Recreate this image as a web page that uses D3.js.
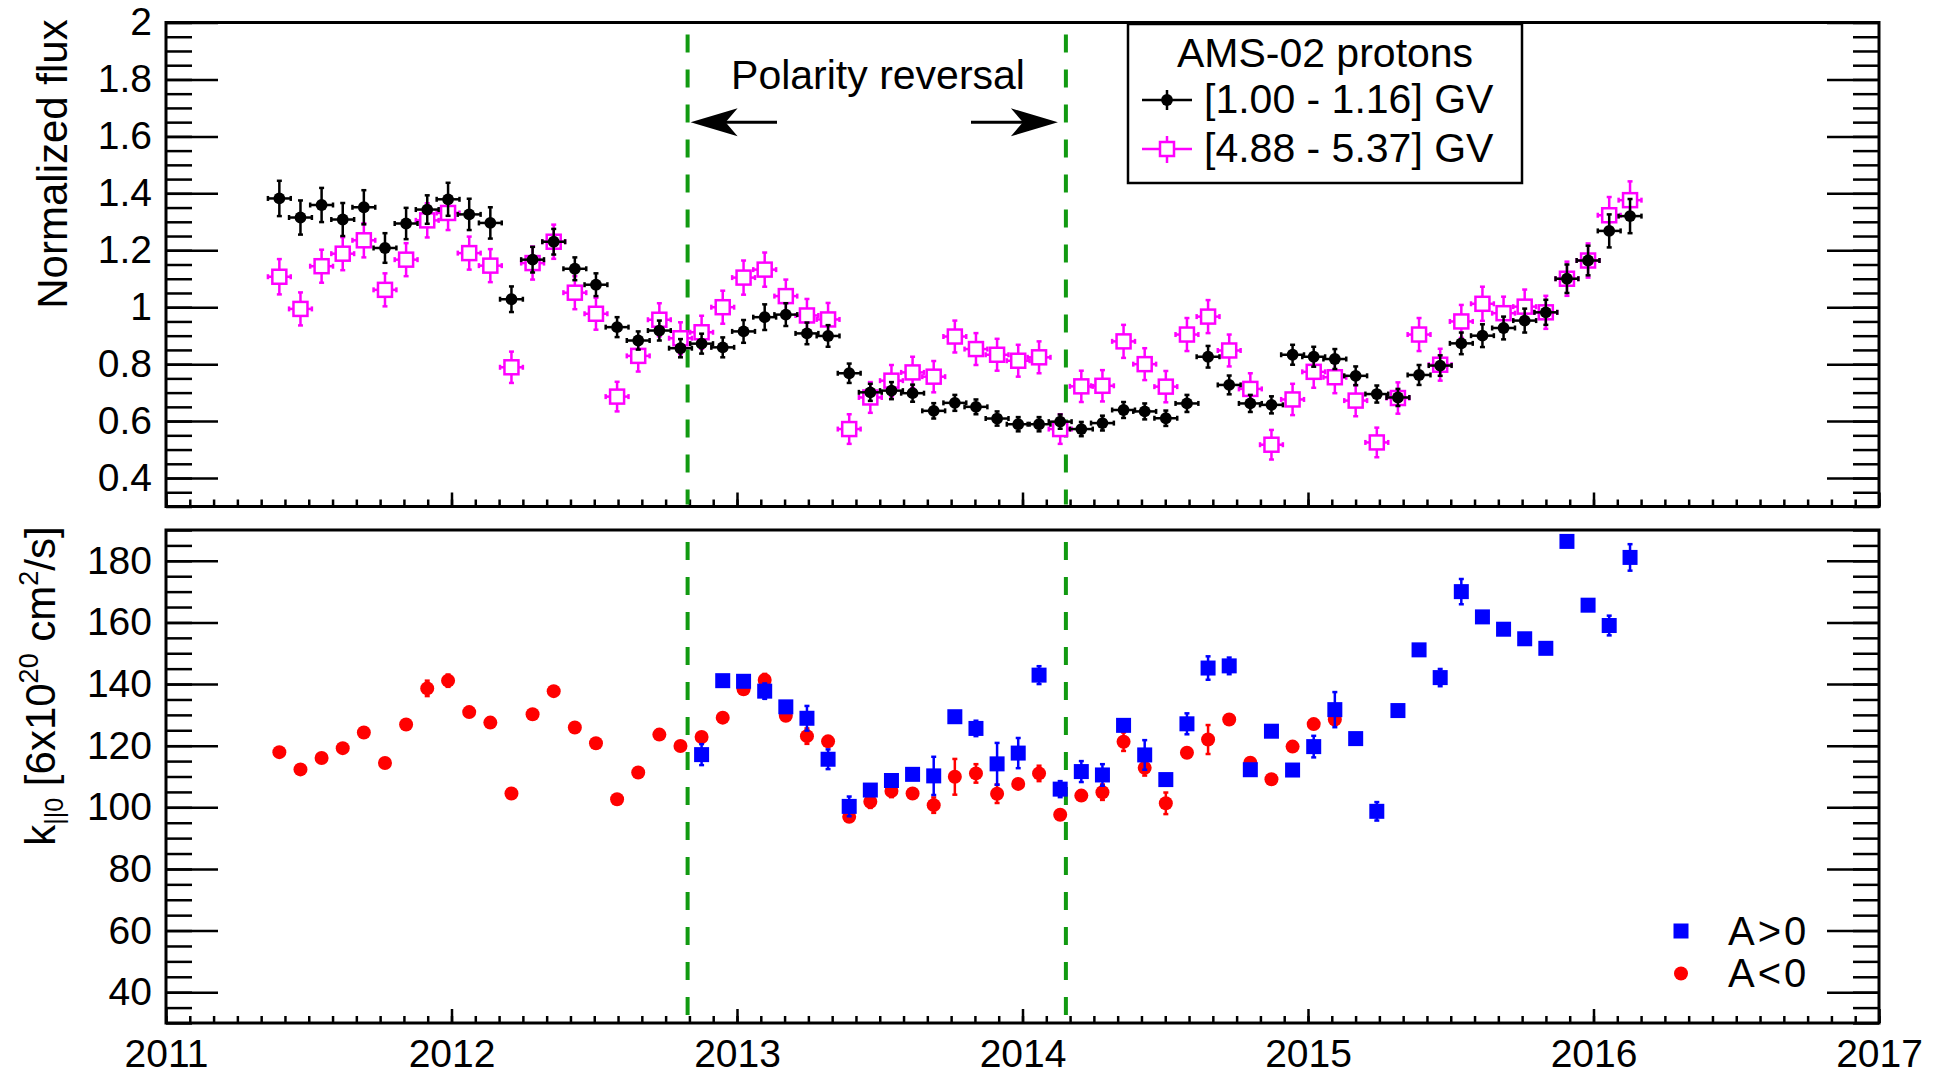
<!DOCTYPE html>
<html>
<head>
<meta charset="utf-8">
<script src="https://cdn.jsdelivr.net/npm/d3@7"></script>
<style>
body { margin: 0; background: #fff; }
svg text { font-family: "Liberation Sans", Arial, Helvetica, sans-serif; fill: #000; }
</style>
</head>
<body>
<div id="chart"></div>
<script>
// Bartels rotation centres (decimal year)
var times = [2011.397, 2011.471, 2011.545, 2011.619, 2011.693, 2011.767, 2011.841, 2011.915, 2011.988, 2012.062,
    2012.136, 2012.210, 2012.284, 2012.358, 2012.432, 2012.506, 2012.580, 2012.654, 2012.728, 2012.802,
    2012.876, 2012.950, 2013.023, 2013.097, 2013.171, 2013.245, 2013.319, 2013.393, 2013.467, 2013.541,
    2013.615, 2013.689, 2013.763, 2013.837, 2013.911, 2013.985, 2014.058, 2014.132, 2014.206, 2014.280,
    2014.354, 2014.428, 2014.502, 2014.576, 2014.650, 2014.724, 2014.798, 2014.872, 2014.946, 2015.020,
    2015.094, 2015.167, 2015.241, 2015.315, 2015.389, 2015.463, 2015.537, 2015.611, 2015.685, 2015.759,
    2015.833, 2015.907, 2015.981, 2016.055, 2016.128];
var halfBin = 0.04;

// [1.00 - 1.16] GV
var fluxLow = [1.382, 1.315, 1.359, 1.308, 1.351, 1.208, 1.294, 1.343, 1.379, 1.326,
    1.296, 1.028, 1.167, 1.230, 1.135, 1.079, 0.930, 0.883, 0.918, 0.856,
    0.872, 0.859, 0.915, 0.965, 0.974, 0.908, 0.899, 0.768, 0.701, 0.707,
    0.698, 0.636, 0.664, 0.650, 0.609, 0.589, 0.589, 0.598, 0.572, 0.593,
    0.639, 0.634, 0.610, 0.662, 0.826, 0.727, 0.662, 0.657, 0.833, 0.826,
    0.818, 0.759, 0.695, 0.683, 0.762, 0.795, 0.873, 0.900, 0.927, 0.953,
    0.982, 1.100, 1.164, 1.268, 1.320];
var fluxLowErr = [0.062, 0.060, 0.060, 0.058, 0.060, 0.052, 0.055, 0.050, 0.058, 0.055,
    0.055, 0.045, 0.045, 0.045, 0.040, 0.040, 0.035, 0.032, 0.035, 0.032,
    0.035, 0.035, 0.040, 0.045, 0.040, 0.038, 0.038, 0.034, 0.030, 0.030,
    0.030, 0.027, 0.028, 0.026, 0.025, 0.025, 0.025, 0.025, 0.025, 0.026,
    0.028, 0.028, 0.027, 0.030, 0.038, 0.033, 0.030, 0.030, 0.035, 0.035,
    0.035, 0.033, 0.030, 0.030, 0.035, 0.036, 0.038, 0.040, 0.040, 0.042,
    0.044, 0.050, 0.052, 0.058, 0.060];

// [4.88 - 5.37] GV
var fluxHigh = [1.107, 0.994, 1.144, 1.188, 1.235, 1.061, 1.167, 1.305, 1.331, 1.190,
    1.146, 0.789, 1.155, 1.230, 1.051, 0.977, 0.686, 0.829, 0.956, 0.891,
    0.912, 1.000, 1.104, 1.132, 1.039, 0.971, 0.957, 0.572, 0.683, 0.742,
    0.771, 0.756, 0.897, 0.853, 0.833, 0.812, 0.824, 0.572, 0.722, 0.724,
    0.880, 0.800, 0.721, 0.904, 0.967, 0.848, 0.713, 0.517, 0.676, 0.773,
    0.754, 0.672, 0.525, 0.681, 0.904, 0.798, 0.950, 1.012, 0.979, 1.002,
    0.982, 1.100, 1.164, 1.323, 1.376];
var fluxHighErr = [0.062, 0.058, 0.058, 0.058, 0.060, 0.058, 0.058, 0.060, 0.060, 0.058,
    0.058, 0.055, 0.058, 0.060, 0.058, 0.056, 0.052, 0.055, 0.058, 0.056,
    0.058, 0.058, 0.060, 0.060, 0.058, 0.058, 0.058, 0.052, 0.054, 0.055,
    0.055, 0.055, 0.056, 0.056, 0.056, 0.056, 0.056, 0.052, 0.055, 0.055,
    0.058, 0.056, 0.055, 0.058, 0.058, 0.056, 0.055, 0.052, 0.055, 0.056,
    0.056, 0.055, 0.052, 0.055, 0.058, 0.056, 0.058, 0.060, 0.058, 0.060,
    0.058, 0.060, 0.060, 0.064, 0.066];

// k_||0, A<0 fits (red)
var kNeg = [117.9, 112.3, 116.0, 119.2, 124.3, 114.4, 126.9, 138.6, 141.1, 130.9,
    127.5, 104.5, 130.2, 137.7, 125.9, 120.8, 102.6, 111.3, 123.6, 119.9,
    122.8, 129.1, 138.3, 141.3, 129.7, 123.1, 121.4, 96.9, 101.8, 105.3,
    104.5, 100.7, 109.9, 111.0, 104.4, 107.6, 111.0, 97.6, 103.8, 104.9,
    121.3, 112.8, 101.3, 117.7, 122.0, 128.5, 114.5, 109.1, 119.7, 127.0,
    128.5, null, null, null, null, null, null, null, null, null,
    null, null, null, null, null];
var kNegErr = [1, 1, 1, 1, 1, 1, 1, 2.5, 2, 1,
    1, 1, 1, 1.5, 1, 1.5, 1, 1, 1, 1,
    1, 1, 1, 2, 1, 2.5, 1, 1, 2, 2,
    1, 2.5, 5.8, 3, 3, 1, 2.5, 1, 1, 2.5,
    3, 2.5, 3.5, 1, 4.7, 1.5, 1, 1, 1, 1,
    1, null, null, null, null, null, null, null, null, null,
    null, null, null, null, null];

// k_||0, A>0 fits (blue)
var kPos = [null, null, null, null, null, null, null, null, null, null,
    null, null, null, null, null, null, null, null, null, null,
    117.1, 141.1, 140.9, 137.7, 132.6, 128.9, 115.6, 100.3, 105.6, 108.7,
    110.7, 110.2, 129.4, 125.6, 114.1, 117.6, 142.9, 105.9, 111.6, 110.5,
    126.6, 117.0, 109.0, 127.1, 145.2, 145.9, 112.2, 124.7, 112.1, 119.7,
    131.7, 122.3, 98.7, 131.4, 151.1, 142.1, 170.0, 161.8, 157.8, 154.7,
    151.6, 186.3, 165.6, 159.0, 181.1];
var kPosErr = [null, null, null, null, null, null, null, null, null, null,
    null, null, null, null, null, null, null, null, null, null,
    3.4, 1, 1, 2.5, 1, 4, 3.2, 3.2, 1, 1,
    1, 6.2, 1.2, 2.5, 6.8, 4.9, 2.9, 2.6, 3.4, 3.5,
    1, 4.8, 1, 3.4, 3.8, 2.7, 1, 1, 1, 3.5,
    5.7, 1, 3, 1, 1, 2.8, 4.1, 1, 1, 1,
    1, 1, 1, 3.2, 4.3];

var reversal = [2012.827, 2014.152];
var years = [2011, 2012, 2013, 2014, 2015, 2016, 2017];
var yearLabels = ["2011", "2012", "2013", "2014", "2015", "2016", "2017"];
var fluxTicks = [0.4, 0.6, 0.8, 1.0, 1.2, 1.4, 1.6, 1.8, 2.0];
var fluxLabels = ["0.4", "0.6", "0.8", "1", "1.2", "1.4", "1.6", "1.8", "2"];
var kTicks = [40, 60, 80, 100, 120, 140, 160, 180];
var kLabels = ["40", "60", "80", "100", "120", "140", "160", "180"];

var width = 1940, height = 1074;
var green = "#119a11", magenta = "#ff00ff", red = "#ff0000", blue = "#0000ff";

var x = d3.scaleLinear().domain([2011, 2017]).range([166, 1879]);
var yTop = d3.scaleLinear().domain([0.3, 2.0]).range([506.5, 22.5]);
var yBot = d3.scaleLinear().domain([30, 190]).range([1023, 530]);

var svg = d3.select("#chart")
    .append("svg")
    .attr("width", width)
    .attr("height", height);
svg.append("rect").attr("width", width).attr("height", height).attr("fill", "#fff");

// axes with inward ticks on left, right and bottom
function drawAxes(y, majors, labels, minorStep, xLabels) {
    var d0 = y.domain()[0], d1 = y.domain()[1];
    var minors = d3.range(d0, d1 + minorStep / 2, minorStep);
    var xMinors = d3.range(2011, 2017.001, 1 / 12);
    var left = x.range()[0], right = x.range()[1], bottom = y.range()[0];

    var g = svg.append("g");
    g.append("g").attr("transform", "translate(" + left + ",0)")
        .call(d3.axisLeft(y).tickValues(minors).tickSize(-26).tickFormat(""));
    g.append("g").attr("transform", "translate(" + left + ",0)")
        .call(d3.axisLeft(y).tickValues(majors).tickSize(-52).tickPadding(14)
            .tickFormat(function (d, i) { return labels[i]; }));
    g.append("g").attr("transform", "translate(" + right + ",0)")
        .call(d3.axisRight(y).tickValues(minors).tickSize(-26).tickFormat(""));
    g.append("g").attr("transform", "translate(" + right + ",0)")
        .call(d3.axisRight(y).tickValues(majors).tickSize(-52).tickFormat(""));
    g.append("g").attr("transform", "translate(0," + bottom + ")")
        .call(d3.axisBottom(x).tickValues(xMinors).tickSize(-7).tickFormat(""));
    g.append("g").attr("transform", "translate(0," + bottom + ")")
        .call(d3.axisBottom(x).tickValues(years).tickSize(-14).tickPadding(16)
            .tickFormat(function (d, i) { return xLabels ? yearLabels[i] : ""; }));

    g.selectAll(".domain").remove();
    g.selectAll(".tick line").attr("stroke", "#000").attr("stroke-width", 2.5);
    g.selectAll(".tick text").style("font-size", "39px").attr("fill", "#000");

    // frame
    g.append("rect")
        .attr("x", left).attr("y", y.range()[1])
        .attr("width", right - left).attr("height", bottom - y.range()[1])
        .attr("fill", "none").attr("stroke", "#000").attr("stroke-width", 3);
}

function drawReversal(y) {
    svg.append("g").selectAll("line")
        .data(reversal).enter().append("line")
        .attr("x1", function (d) { return x(d); })
        .attr("x2", function (d) { return x(d); })
        .attr("y1", y.range()[1] + 2)
        .attr("y2", y.range()[0] - 2)
        .attr("stroke", green)
        .attr("stroke-width", 4)
        .attr("stroke-dasharray", "18,17")
        .attr("stroke-dashoffset", 25);
}

// error bars with small end caps
function drawErrors(g, pts, y, color, withX) {
    var cap = 2.5;
    var e = g.selectAll(null).data(pts).enter().append("g")
        .attr("stroke", color).attr("stroke-width", 2.5);
    e.append("line")
        .attr("x1", function (d) { return x(d.t); }).attr("x2", function (d) { return x(d.t); })
        .attr("y1", function (d) { return y(d.v - d.e); }).attr("y2", function (d) { return y(d.v + d.e); });
    e.append("line")
        .attr("x1", function (d) { return x(d.t) - cap; }).attr("x2", function (d) { return x(d.t) + cap; })
        .attr("y1", function (d) { return y(d.v + d.e); }).attr("y2", function (d) { return y(d.v + d.e); });
    e.append("line")
        .attr("x1", function (d) { return x(d.t) - cap; }).attr("x2", function (d) { return x(d.t) + cap; })
        .attr("y1", function (d) { return y(d.v - d.e); }).attr("y2", function (d) { return y(d.v - d.e); });
    if (withX) {
        e.append("line")
            .attr("x1", function (d) { return x(d.t - halfBin); }).attr("x2", function (d) { return x(d.t + halfBin); })
            .attr("y1", function (d) { return y(d.v); }).attr("y2", function (d) { return y(d.v); });
        e.append("line")
            .attr("x1", function (d) { return x(d.t - halfBin); }).attr("x2", function (d) { return x(d.t - halfBin); })
            .attr("y1", function (d) { return y(d.v) - cap; }).attr("y2", function (d) { return y(d.v) + cap; });
        e.append("line")
            .attr("x1", function (d) { return x(d.t + halfBin); }).attr("x2", function (d) { return x(d.t + halfBin); })
            .attr("y1", function (d) { return y(d.v) - cap; }).attr("y2", function (d) { return y(d.v) + cap; });
    }
}

function series(vals, errs) {
    var out = [];
    times.forEach(function (t, i) {
        if (vals[i] !== null) out.push({ t: t, v: vals[i], e: errs[i] });
    });
    return out;
}

//---------------- top panel ----------------
drawAxes(yTop, fluxTicks, fluxLabels, 0.05, false);
drawReversal(yTop);

var hi = series(fluxHigh, fluxHighErr);
var lo = series(fluxLow, fluxLowErr);
var topG = svg.append("g");

drawErrors(topG, hi, yTop, magenta, true);
topG.selectAll(null).data(hi).enter().append("rect")
    .attr("x", function (d) { return x(d.t) - 7; })
    .attr("y", function (d) { return yTop(d.v) - 7; })
    .attr("width", 14).attr("height", 14)
    .attr("fill", "#fff").attr("stroke", magenta).attr("stroke-width", 2.5);

drawErrors(topG, lo, yTop, "#000", true);
topG.selectAll(null).data(lo).enter().append("circle")
    .attr("cx", function (d) { return x(d.t); })
    .attr("cy", function (d) { return yTop(d.v); })
    .attr("r", 5.9).attr("fill", "#000");

// polarity reversal annotation
svg.append("text").attr("x", 878).attr("y", 89)
    .attr("text-anchor", "middle").style("font-size", "41px")
    .text("Polarity reversal");

function arrow(tail, tip) {
    var yA = 122.3, dir = tip > tail ? -1 : 1;
    svg.append("line").attr("x1", tail).attr("x2", tip + dir * 30)
        .attr("y1", yA).attr("y2", yA).attr("stroke", "#000").attr("stroke-width", 3);
    svg.append("path")
        .attr("d", "M" + tip + "," + yA +
            "L" + (tip + dir * 47) + "," + (yA - 14) +
            "L" + (tip + dir * 35) + "," + yA +
            "L" + (tip + dir * 47) + "," + (yA + 14) + "Z")
        .attr("fill", "#000");
}
arrow(777, x(reversal[0]) + 3);
arrow(971, x(reversal[1]) - 8);

// legend (top)
var leg = svg.append("g");
leg.append("rect").attr("x", 1128).attr("y", 24).attr("width", 394).attr("height", 159)
    .attr("fill", "#fff").attr("stroke", "#000").attr("stroke-width", 2.5);
leg.append("text").attr("x", 1325).attr("y", 67).attr("text-anchor", "middle")
    .style("font-size", "41px").text("AMS-02 protons");

leg.append("line").attr("x1", 1142).attr("x2", 1192).attr("y1", 100).attr("y2", 100)
    .attr("stroke", "#000").attr("stroke-width", 2.5);
leg.append("line").attr("x1", 1167).attr("x2", 1167).attr("y1", 90).attr("y2", 110)
    .attr("stroke", "#000").attr("stroke-width", 2.5);
leg.append("circle").attr("cx", 1167).attr("cy", 100).attr("r", 5.9).attr("fill", "#000");
leg.append("text").attr("x", 1204).attr("y", 113).style("font-size", "41px").text("[1.00 - 1.16] GV");

leg.append("line").attr("x1", 1142).attr("x2", 1192).attr("y1", 149).attr("y2", 149)
    .attr("stroke", magenta).attr("stroke-width", 2.5);
leg.append("line").attr("x1", 1167).attr("x2", 1167).attr("y1", 136).attr("y2", 163)
    .attr("stroke", magenta).attr("stroke-width", 2.5);
leg.append("rect").attr("x", 1160).attr("y", 142).attr("width", 14).attr("height", 14)
    .attr("fill", "#fff").attr("stroke", magenta).attr("stroke-width", 2.5);
leg.append("text").attr("x", 1204).attr("y", 162).style("font-size", "41px").text("[4.88 - 5.37] GV");

// y title (top)
svg.append("text")
    .attr("transform", "translate(67,164) rotate(-90)")
    .attr("text-anchor", "middle")
    .style("font-size", "42px")
    .text("Normalized flux");

//---------------- bottom panel ----------------
drawAxes(yBot, kTicks, kLabels, 5, true);
drawReversal(yBot);

var neg = series(kNeg, kNegErr);
var pos = series(kPos, kPosErr);
var botG = svg.append("g");

drawErrors(botG, neg, yBot, red, false);
botG.selectAll(null).data(neg).enter().append("circle")
    .attr("cx", function (d) { return x(d.t); })
    .attr("cy", function (d) { return yBot(d.v); })
    .attr("r", 7).attr("fill", red);

drawErrors(botG, pos, yBot, blue, false);
botG.selectAll(null).data(pos).enter().append("rect")
    .attr("x", function (d) { return x(d.t) - 7.5; })
    .attr("y", function (d) { return yBot(d.v) - 7.5; })
    .attr("width", 15).attr("height", 15)
    .attr("fill", blue);

// legend (bottom)
svg.append("rect").attr("x", 1673.5).attr("y", 923.5).attr("width", 15).attr("height", 15).attr("fill", blue);
svg.append("circle").attr("cx", 1681).attr("cy", 973.5).attr("r", 7).attr("fill", red);
svg.append("text").attr("x", 1728).attr("y", 945).style("font-size", "40px")
    .style("letter-spacing", "3px").text("A>0");
svg.append("text").attr("x", 1728).attr("y", 987).style("font-size", "40px")
    .style("letter-spacing", "3px").text("A<0");

// y title (bottom)
var kt = svg.append("text")
    .attr("transform", "translate(55,686) rotate(-90)")
    .attr("text-anchor", "middle")
    .style("font-size", "42px");
kt.append("tspan").text("k");
kt.append("tspan").attr("dy", 8).style("font-size", "25px").text("||0");
kt.append("tspan").attr("dy", -8).text(" [6x10");
kt.append("tspan").attr("dy", -17).style("font-size", "27px").text("20");
kt.append("tspan").attr("dy", 17).text(" cm");
kt.append("tspan").attr("dy", -17).style("font-size", "27px").text("2");
kt.append("tspan").attr("dy", 17).text("/s]");
</script>
</body>
</html>
